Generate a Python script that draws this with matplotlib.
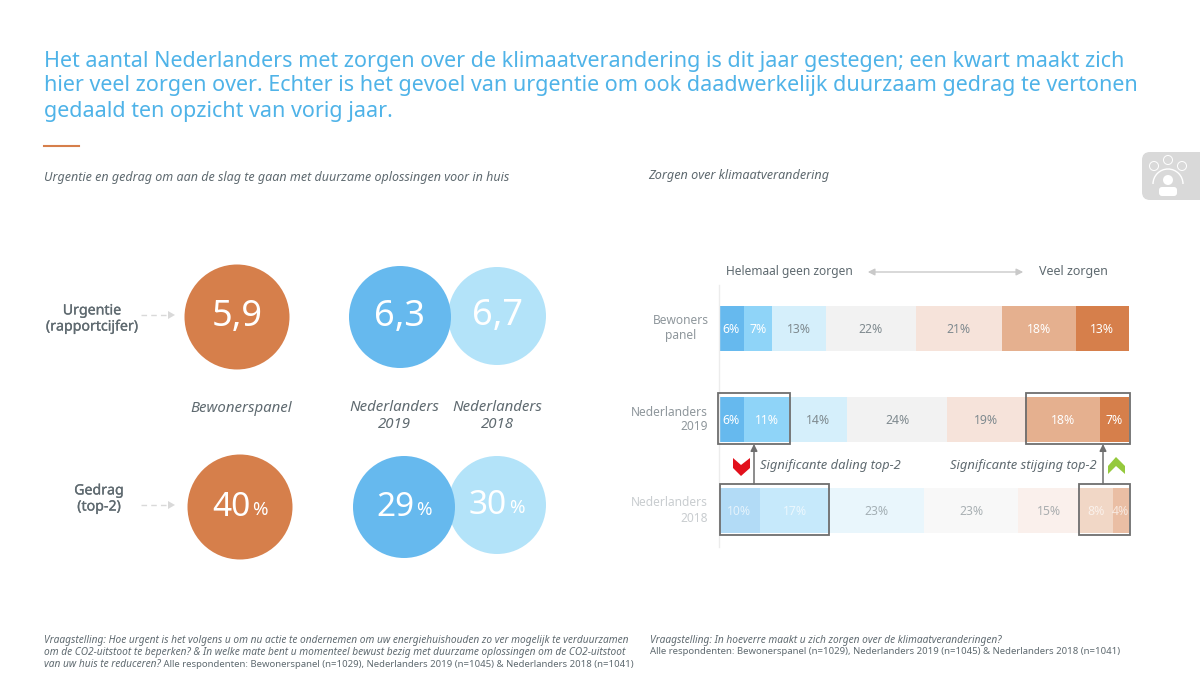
import matplotlib
matplotlib.use('Agg')
import matplotlib.pyplot as plt
import matplotlib.patheffects as pe
from matplotlib.patches import Arc, Circle, FancyBboxPatch, Polygon, Rectangle

plt.rcParams['font.family'] = ['Noto Sans', 'DejaVu Sans']

# --- data ---
title_lines = [
    'Het aantal Nederlanders met zorgen over de klimaatverandering is dit jaar gestegen; een kwart maakt zich',
    'hier veel zorgen over. Echter is het gevoel van urgentie om ook daadwerkelijk duurzaam gedrag te vertonen',
    'gedaald ten opzicht van vorig jaar.',
]
urgentie = [5.9, 6.3, 6.7]
gedrag = [40, 29, 30]
circle_groups = ['Bewonerspanel', 'Nederlanders\n2019', 'Nederlanders\n2018']

rows = ['Bewoners\npanel', 'Nederlanders\n2019', 'Nederlanders\n2018']
bewoners = [6, 7, 13, 22, 21, 18, 13]
nl_2019 = [6, 11, 14, 24, 19, 18, 7]
nl_2018 = [10, 17, 23, 23, 15, 8, 4]
bar_colors = ['#66b9ee', '#8fd4f8', '#d5effb', '#f2f2f2', '#f6e3da', '#e5b08f', '#d67f4b']
label_colors = ['white', 'white', '#7f8a8f', '#7f8a8f', '#7f8a8f', 'white', 'white']

notes_left = [
    'Vraagstelling: Hoe urgent is het volgens u om nu actie te ondernemen om uw energiehuishouden zo ver mogelijk te verduurzamen',
    'om de CO2-uitstoot te beperken? & In welke mate bent u momenteel bewust bezig met duurzame oplossingen om de CO2-uitstoot',
]
note_left_end = ['van uw huis te reduceren?', ' Alle respondenten: Bewonerspanel (n=1029), Nederlanders 2019 (n=1045) & Nederlanders 2018 (n=1041)']
note_right = [
    'Vraagstelling: In hoeverre maakt u zich zorgen over de klimaatveranderingen?',
    'Alle respondenten: Bewonerspanel (n=1029), Nederlanders 2019 (n=1045) & Nederlanders 2018 (n=1041)',
]

ORANGE = '#d67f4b'
BLUE = '#66b9ee'
LIGHT = '#b3e3f9'
GREY = '#5f6a70'


def comma(v):
    return f'{v:.1f}'.replace('.', ',')


def draw_circle_value(ax, x, y, r, color, text, unit=None):
    ax.add_patch(Circle((x, y), r, color=color, lw=0))
    if unit:
        ax.text(x - 9, y, text, color='white', fontsize=24, ha='center', va='center')
        ax.text(x + 19.5, y + 3, unit, color='white', fontsize=13.5, ha='center', va='center')
    else:
        ax.text(x, y, text, color='white', fontsize=26, ha='center', va='center')


def draw_dash_arrow(ax, x0, x1, y):
    ax.plot([x0, x1 - 7], [y, y], color='#d9d9d9', lw=1, ls=(0, (4, 3)))
    ax.add_patch(Polygon([(x1 - 7, y - 4), (x1, y), (x1 - 7, y + 4)], color='#d9d9d9', lw=0))


def draw_bars(fig):
    # bar axes: 719-1129 px wide, rows spaced 91 px
    ax = fig.add_axes([719 / 1200, 1 - 556 / 675, 410 / 1200, (556 - 284) / 675])
    ax.set_xlim(0, 1)
    ax.set_ylim((556 - 328.5) / 91, (284 - 328.5) / 91)
    ax.axis('off')
    ax.plot([0, 0], [-0.48, 2.4], color='#ececec', lw=1, clip_on=False)
    for i, vals in enumerate([bewoners, nl_2019, nl_2018]):
        total = sum(vals)
        left = 0
        fade = 0.5 if i == 2 else 1
        for v, c, lc in zip(vals, bar_colors, label_colors):
            w = v / total
            ax.barh(i, w, left=left, height=0.5, color=c, alpha=fade, lw=0)
            ax.text(left + w / 2, i + 0.01, f'{v}%', ha='center', va='center', fontsize=8.8,
                    color=lc, alpha=0.65 if i == 2 else 1)
            left += w


def draw_icon(ax):
    ax.add_patch(FancyBboxPatch((1142, 152), 80, 48, boxstyle='round,pad=0,rounding_size=8',
                                color='#d9d9d9', lw=0, clip_on=True))
    for cx, cy in ((1154, 166), (1168, 160), (1182, 166)):
        ax.add_patch(Circle((cx, cy), 4.5, fill=False, ec='white', lw=0.7))
    ax.add_patch(Arc((1168, 184), 30, 30, theta1=180, theta2=360, ec='white', lw=1))
    ax.add_patch(Circle((1168, 180), 5, color='white', lw=0))
    ax.add_patch(FancyBboxPatch((1159, 187), 18, 9, boxstyle='round,pad=0,rounding_size=3', color='white', lw=0))


def main():
    fig = plt.figure(figsize=(12, 6.75), dpi=100)
    bg = fig.add_axes([0, 0, 1, 1])
    bg.set_xlim(0, 1200)
    bg.set_ylim(675, 0)
    bg.axis('off')

    # title
    for line, y in zip(title_lines, (61, 86, 111.5)):
        bg.text(44, y, line, color='#4fb3e8', fontsize=15.5, ha='left', va='center')
    bg.plot([44, 79], [145.5, 145.5], color=ORANGE, lw=1.5)

    bg.text(44, 177, 'Urgentie en gedrag om aan de slag te gaan met duurzame oplossingen voor in huis',
            color=GREY, fontsize=9.0, style='italic', va='center')
    bg.text(648, 176, 'Zorgen over klimaatverandering', color=GREY, fontsize=9.1, style='italic', va='center')

    draw_icon(bg)

    # left panel
    heavy = [pe.withStroke(linewidth=0.2, foreground=GREY)]
    bg.text(92, 319, 'Urgentie\n(rapportcijfer)', color=GREY, fontsize=10.2, path_effects=heavy,
            ha='center', va='center', linespacing=1.1)
    bg.text(99, 499, 'Gedrag\n(top-2)', color=GREY, fontsize=10.2, path_effects=heavy,
            ha='center', va='center', linespacing=1.1)
    draw_dash_arrow(bg, 141, 175, 315)
    draw_dash_arrow(bg, 141, 175, 505)

    draw_circle_value(bg, 497, 316, 49, LIGHT, comma(urgentie[2]))
    draw_circle_value(bg, 400, 317, 51, BLUE, comma(urgentie[1]))
    draw_circle_value(bg, 237, 317, 52.5, ORANGE, comma(urgentie[0]))
    draw_circle_value(bg, 497, 505, 49, LIGHT, str(gedrag[2]), '%')
    draw_circle_value(bg, 404, 507, 51, BLUE, str(gedrag[1]), '%')
    draw_circle_value(bg, 240, 507, 52.5, ORANGE, str(gedrag[0]), '%')

    for x, y, label in zip((241, 394, 497), (408, 416, 416), circle_groups):
        bg.text(x, y, label, color=GREY, fontsize=10.8, style='italic', ha='center', va='center', linespacing=1.15)

    # right panel
    draw_bars(fig)
    over = fig.add_axes([0, 0, 1, 1])
    over.set_xlim(0, 1200)
    over.set_ylim(675, 0)
    over.axis('off')
    over.patch.set_alpha(0)

    over.text(789, 272, 'Helemaal geen zorgen', color=GREY, fontsize=8.6, ha='center', va='center')
    over.text(1073, 272, 'Veel zorgen', color=GREY, fontsize=9, ha='center', va='center')
    over.annotate('', xy=(865, 272), xytext=(1026, 272),
                  arrowprops=dict(arrowstyle='<|-|>', color='#c9c9c9', lw=1))

    over.text(681, 328.5, rows[0], color='#8f979c', fontsize=8.6, ha='center', va='center', linespacing=1.2)
    over.text(708, 419.5, rows[1], color='#8f979c', fontsize=8.6, ha='right', va='center', linespacing=1.2)
    over.text(708, 510.5, rows[2], color='#c9cdd0', fontsize=8.6, ha='right', va='center', linespacing=1.2)

    for x0, y0, x1, y1 in ((718, 393, 790, 444), (1026, 393, 1130, 444),
                           (720, 484, 829, 535), (1079, 484, 1130, 535)):
        over.add_patch(Rectangle((x0, y0), x1 - x0, y1 - y0, fill=False, ec='#6e6e6e', lw=1.3))
    for x, y0, y1 in ((754, 484, 444), (1103, 484, 444)):
        over.annotate('', xy=(x, y1), xytext=(x, y0),
                      arrowprops=dict(arrowstyle='-|>', color='#6e6e6e', lw=1.1, shrinkA=0, shrinkB=0))

    over.text(760, 466, 'Significante daling top-2', color=GREY, fontsize=9.3, style='italic', va='center')
    over.text(1097, 466, 'Significante stijging top-2', color=GREY, fontsize=9.3, style='italic', va='center', ha='right')
    over.add_patch(Polygon([(733, 458), (741, 465), (750, 458), (750, 468), (741, 476), (733, 468)], color='#e2101c', lw=0))
    over.add_patch(Polygon([(1108, 466), (1116, 457), (1125, 466), (1125, 474), (1116, 466), (1108, 474)], color='#95c93d', lw=0))

    # footnotes
    for line, y in zip(notes_left, (641, 653)):
        over.text(44, y, line, color=GREY, fontsize=7.3, style='italic', va='center')
    t = over.text(44, 664.5, note_left_end[0], color=GREY, fontsize=7.3, style='italic', va='center')
    fig.canvas.draw()
    bb = t.get_window_extent()
    over.text(bb.x1, 664.5, note_left_end[1], color=GREY, fontsize=6.9, va='center')
    over.text(650, 641, note_right[0], color=GREY, fontsize=7.3, style='italic', va='center')
    over.text(650, 652, note_right[1], color=GREY, fontsize=6.9, va='center')

    fig.savefig('out.png', dpi=100)


if __name__ == '__main__':
    main()
